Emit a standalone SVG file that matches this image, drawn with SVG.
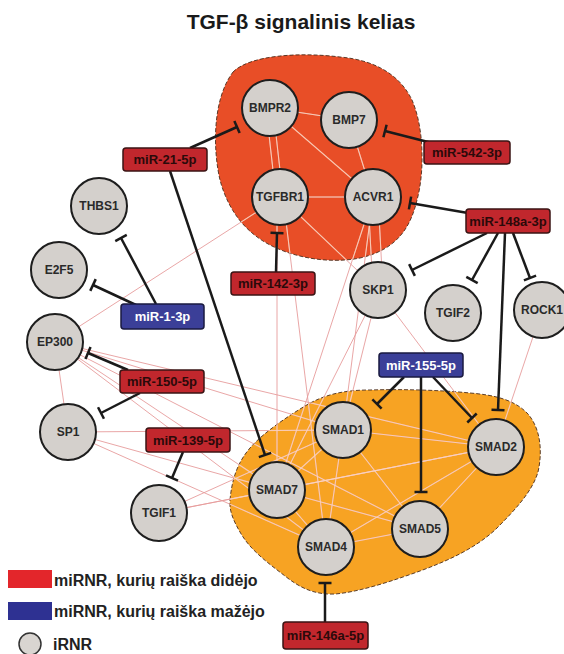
<svg xmlns="http://www.w3.org/2000/svg" xmlns:xlink="http://www.w3.org/1999/xlink" width="564" height="654" viewBox="0 0 564 654">
<style>
.title{font-family:"Liberation Sans",Arial,sans-serif;font-weight:bold;font-size:21px;fill:#1a1a1a}
.node circle{fill:#d4d0cc;stroke:#1e1e1e;stroke-width:2}
.node text{font-family:"Liberation Sans",Arial,sans-serif;font-weight:bold;font-size:12px;fill:#2a2a2a;text-anchor:middle}
.mirup rect{fill:#c1272d;stroke:#3a1414;stroke-width:1.5}
.mirup text{font-family:"Liberation Sans",Arial,sans-serif;font-weight:bold;font-size:13px;fill:#2b0a0a;text-anchor:middle}
.mirdown rect{fill:#3b3f98;stroke:#1a1a40;stroke-width:1.5}
.mirdown text{font-family:"Liberation Sans",Arial,sans-serif;font-weight:bold;font-size:13px;fill:#ffffff;text-anchor:middle}
.inh{stroke:#1a1a1a;stroke-width:2.5;fill:none;marker-end:url(#tbar)}
.blob{stroke:#4a2c1c;stroke-width:0.9;stroke-dasharray:4 2}
.leg{font-family:"Liberation Sans",Arial,sans-serif;font-weight:bold;font-size:16px;fill:#222}
</style>
<defs>
<marker id="tbar" markerUnits="userSpaceOnUse" markerWidth="4" markerHeight="16" refX="0" refY="0" viewBox="-2 -8 4 16" orient="auto">
<path d="M0,-6.5 L0,6.5" stroke="#1a1a1a" stroke-width="2.5"/>
</marker>
<path id="redblob" d="M233,72 C250,55 300,52 340,57 C375,60 400,75 412,100 C425,130 424,175 417,200 C410,230 395,250 360,258 C330,264 295,258 270,245 C245,232 228,210 220,180 C213,150 212,100 233,72 Z"/>
<path id="orangeblob" d="M230,500 C232,478 238,462 250,448 C262,434 285,418 305,406 C325,394 345,390 370,390 C400,389 440,390 470,393 C495,395 515,400 528,414 C540,428 543,450 538,472 C532,492 515,510 495,530 C475,548 450,560 420,571 C395,580 360,592 335,594 C315,595 300,588 285,576 C268,563 250,550 240,532 C233,520 229,510 230,500 Z"/>
<clipPath id="blobclip">
<use xlink:href="#redblob"/>
<use xlink:href="#orangeblob"/>
</clipPath>
<g id="edgeset" fill="none">
<line x1="280" y1="197" x2="55" y2="342"/>
<line x1="280" y1="197" x2="378" y2="290"/>
<line x1="277" y1="197" x2="277" y2="490"/>
<line x1="283" y1="197" x2="326" y2="547"/>
<line x1="368" y1="197" x2="373" y2="290"/>
<line x1="378" y1="197" x2="383" y2="290"/>
<line x1="373" y1="197" x2="343" y2="430"/>
<line x1="373" y1="197" x2="277" y2="490"/>
<line x1="378" y1="290" x2="343" y2="430"/>
<line x1="378" y1="290" x2="496" y2="447"/>
<line x1="378" y1="290" x2="277" y2="490"/>
<line x1="542" y1="310" x2="496" y2="447"/>
<line x1="55" y1="342" x2="68" y2="432"/>
<line x1="55" y1="342" x2="343" y2="430"/>
<line x1="55" y1="342" x2="496" y2="447"/>
<line x1="55" y1="342" x2="277" y2="490"/>
<line x1="55" y1="342" x2="326" y2="547"/>
<line x1="55" y1="342" x2="420" y2="529"/>
<line x1="68" y1="432" x2="343" y2="430"/>
<line x1="68" y1="432" x2="277" y2="490"/>
<line x1="68" y1="432" x2="326" y2="547"/>
<line x1="159" y1="513" x2="277" y2="490"/>
<line x1="159" y1="513" x2="343" y2="430"/>
<line x1="159" y1="513" x2="496" y2="447"/>
<line x1="277" y1="490" x2="343" y2="430"/>
<line x1="277" y1="490" x2="496" y2="447"/>
<line x1="277" y1="490" x2="420" y2="529"/>
<line x1="277" y1="490" x2="326" y2="547"/>
<line x1="343" y1="430" x2="496" y2="447"/>
<line x1="343" y1="430" x2="420" y2="529"/>
<line x1="343" y1="430" x2="326" y2="547"/>
<line x1="326" y1="547" x2="420" y2="529"/>
<line x1="420" y1="529" x2="496" y2="447"/>
<line x1="326" y1="547" x2="496" y2="447"/>
<line x1="270" y1="108" x2="349" y2="120"/>
<line x1="266" y1="108" x2="276" y2="197"/>
<line x1="273" y1="108" x2="283" y2="197"/>
<line x1="270" y1="108" x2="373" y2="197"/>
<line x1="349" y1="120" x2="373" y2="197"/>
<line x1="280" y1="197" x2="373" y2="197"/>
</g>
</defs>
<rect width="564" height="654" fill="#ffffff"/>
<text class="title" x="301" y="29" text-anchor="middle">TGF-β signalinis kelias</text>
<g id="blobs">
<use xlink:href="#redblob" class="blob" fill="#e84e27"/>
<use xlink:href="#orangeblob" class="blob" fill="#f7a323"/>
</g>
<g id="connectors">
<use xlink:href="#edgeset" stroke="#e79c9c" stroke-width="0.9"/>
<use xlink:href="#edgeset" stroke="#fcd6bd" stroke-width="1.1" stroke-opacity="0.8" clip-path="url(#blobclip)"/>
<line class="inh" x1="190" y1="148" x2="237" y2="127"/>
<line class="inh" x1="170" y1="171" x2="265" y2="455"/>
<line class="inh" x1="432" y1="143" x2="385" y2="131"/>
<line class="inh" x1="468" y1="213" x2="410" y2="203"/>
<line class="inh" x1="487" y1="233" x2="412" y2="270"/>
<line class="inh" x1="498" y1="233" x2="472" y2="280"/>
<line class="inh" x1="513" y1="233" x2="530" y2="278"/>
<line class="inh" x1="505" y1="233" x2="498" y2="410"/>
<line class="inh" x1="276" y1="272" x2="277" y2="233"/>
<line class="inh" x1="156" y1="304" x2="121" y2="238"/>
<line class="inh" x1="136" y1="305" x2="93" y2="285"/>
<line class="inh" x1="128" y1="370" x2="88" y2="353"/>
<line class="inh" x1="140" y1="393" x2="101" y2="413"/>
<line class="inh" x1="183" y1="452" x2="172" y2="478"/>
<line class="inh" x1="404" y1="377" x2="377" y2="404"/>
<line class="inh" x1="421" y1="377" x2="421" y2="492"/>
<line class="inh" x1="433" y1="377" x2="472" y2="418"/>
<line class="inh" x1="325" y1="622" x2="325" y2="583"/>
</g>
<g id="n-BMPR2" class="node"><circle cx="270" cy="108" r="28"/><text x="270" y="112">BMPR2</text></g>
<g id="n-BMP7" class="node"><circle cx="349" cy="120" r="28"/><text x="349" y="124">BMP7</text></g>
<g id="n-TGFBR1" class="node"><circle cx="280" cy="197" r="28"/><text x="280" y="201">TGFBR1</text></g>
<g id="n-ACVR1" class="node"><circle cx="373" cy="197" r="28"/><text x="373" y="201">ACVR1</text></g>
<g id="n-SKP1" class="node"><circle cx="378" cy="290" r="28"/><text x="378" y="294">SKP1</text></g>
<g id="n-TGIF2" class="node"><circle cx="453" cy="313" r="28"/><text x="453" y="317">TGIF2</text></g>
<g id="n-ROCK1" class="node"><circle cx="542" cy="310" r="28"/><text x="542" y="314">ROCK1</text></g>
<g id="n-THBS1" class="node"><circle cx="99" cy="206" r="28"/><text x="99" y="210">THBS1</text></g>
<g id="n-E2F5" class="node"><circle cx="59" cy="270" r="28"/><text x="59" y="274">E2F5</text></g>
<g id="n-EP300" class="node"><circle cx="55" cy="342" r="28"/><text x="55" y="346">EP300</text></g>
<g id="n-SP1" class="node"><circle cx="68" cy="432" r="28"/><text x="68" y="436">SP1</text></g>
<g id="n-TGIF1" class="node"><circle cx="159" cy="513" r="28"/><text x="159" y="517">TGIF1</text></g>
<g id="n-SMAD7" class="node"><circle cx="277" cy="490" r="28"/><text x="277" y="494">SMAD7</text></g>
<g id="n-SMAD1" class="node"><circle cx="343" cy="430" r="28"/><text x="343" y="434">SMAD1</text></g>
<g id="n-SMAD2" class="node"><circle cx="496" cy="447" r="28"/><text x="496" y="451">SMAD2</text></g>
<g id="n-SMAD5" class="node"><circle cx="420" cy="529" r="28"/><text x="420" y="533">SMAD5</text></g>
<g id="n-SMAD4" class="node"><circle cx="326" cy="547" r="28"/><text x="326" y="551">SMAD4</text></g>
<g id="m-21" class="mirup"><rect x="123" y="148" width="84" height="23" rx="3"/><text x="165" y="164">miR-21-5p</text></g>
<g id="m-542" class="mirup"><rect x="424" y="141" width="86" height="23" rx="3"/><text x="467" y="157">miR-542-3p</text></g>
<g id="m-148a" class="mirup"><rect x="466" y="209" width="84" height="24" rx="3"/><text x="508" y="225.5">miR-148a-3p</text></g>
<g id="m-142" class="mirup"><rect x="231" y="272" width="84" height="23" rx="3"/><text x="273" y="288">miR-142-3p</text></g>
<g id="m-1" class="mirdown"><rect x="121" y="304" width="83" height="25" rx="3"/><text x="162.5" y="321">miR-1-3p</text></g>
<g id="m-150" class="mirup"><rect x="120" y="370" width="84" height="23" rx="3"/><text x="162" y="386">miR-150-5p</text></g>
<g id="m-139" class="mirup"><rect x="146" y="428" width="84" height="24" rx="3"/><text x="188" y="444.5">miR-139-5p</text></g>
<g id="m-155" class="mirdown"><rect x="379" y="353" width="84" height="24" rx="3"/><text x="421" y="369.5">miR-155-5p</text></g>
<g id="m-146a" class="mirup"><rect x="283" y="622" width="85" height="27" rx="3"/><text x="325.5" y="640">miR-146a-5p</text></g>
<g id="legend">
<rect x="8" y="570" width="44" height="18" fill="#e3262b"/>
<text class="leg" x="54" y="586">miRNR, kurių raiška didėjo</text>
<rect x="8" y="602" width="44" height="18" fill="#2e3192"/>
<text class="leg" x="54" y="617">miRNR, kurių raiška mažėjo</text>
<circle cx="30" cy="644" r="11" fill="#d9d5d1" stroke="#333" stroke-width="1.5"/>
<text class="leg" x="53" y="650">iRNR</text>
</g>
</svg>
